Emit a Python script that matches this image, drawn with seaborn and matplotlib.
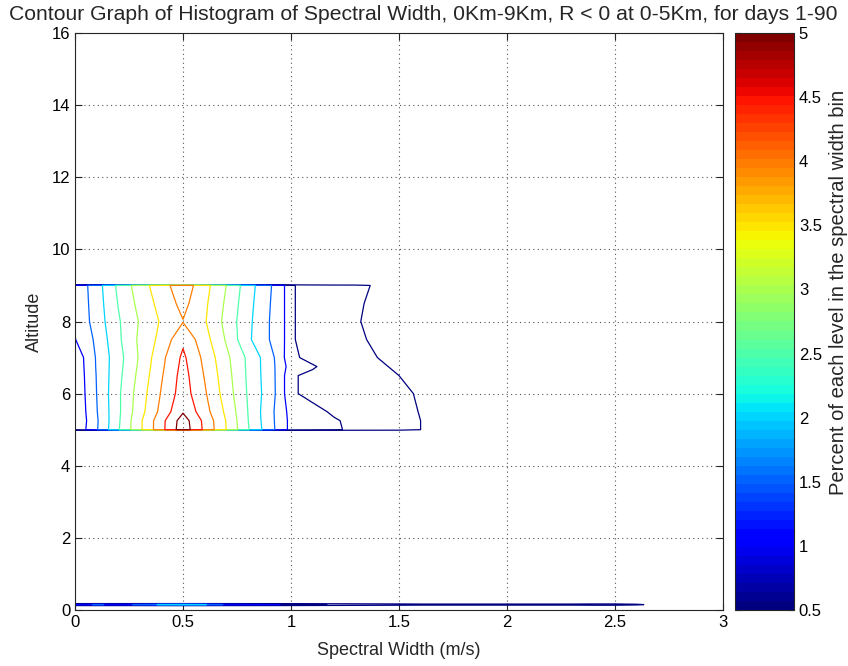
import numpy as np
import matplotlib
matplotlib.use("Agg")
import matplotlib as mpl
import matplotlib.pyplot as plt
from matplotlib.colors import Normalize
import seaborn as sns

# ---------------- data ----------------
spectral_width = [0.0, 0.1, 0.2, 0.3, 0.4, 0.5, 0.6, 0.7, 0.8, 0.9, 0.95,
                  1.0, 1.1, 1.2, 1.3, 1.4, 1.5, 1.6, 1.7, 1.8, 1.9, 2.0,
                  2.1, 2.2, 2.3, 2.4, 2.5, 2.6, 2.7, 2.8, 2.9, 3.0]
altitude_km = [0.0, 0.12, 0.15, 0.18, 4.98, 5.0, 5.25, 5.5, 6.0, 6.5, 6.75,
               7.0, 7.5, 8.0, 8.5, 9.0, 9.02, 16.0]

# percent per spectral-width bin at each altitude (missing tail = 0)
pct_0_15 = [1.1, 1.6, 1.3, 1.6, 2.1, 2.2, 2.05, 1.4, 1.2, 1.1, 1.0,
            0.9, 0.6, 0.45, 0.35, 0.3, 0.25, 0.2, 0.2, 0.2, 0.2, 0.2,
            0.2, 0.2, 0.2, 0.25, 0.25, 0.15, 0.0, 0.0, 0.0, 0.0]
pct_5_00 = [0.55, 1.45, 2.45, 3.4, 4.35, 5.3, 4.4, 3.5, 2.55, 1.7, 1.3,
            0.85, 0.72, 0.55, 0.42, 0.35, 0.3, 0.1, 0.0]
pct_5_25 = [0.5, 1.43, 2.42, 3.4, 4.34, 5.25, 4.37, 3.48, 2.52, 1.67, 1.3,
            0.85, 0.7, 0.53, 0.42, 0.35, 0.3, 0.1, 0.0]
pct_5_50 = [0.53, 1.47, 2.4, 3.3, 4.15, 4.95, 4.2, 3.4, 2.5, 1.65, 1.3,
            0.8, 0.6, 0.45, 0.35, 0.3, 0.25, 0.08, 0.0]
pct_6_00 = [0.57, 1.5, 2.41, 3.24, 4.04, 4.75, 4.07, 3.27, 2.46, 1.74, 1.3,
            0.55, 0.4, 0.35, 0.3, 0.25, 0.2, 0.05, 0.0]
pct_6_50 = [0.6, 1.52, 2.36, 3.15, 3.95, 4.7, 3.97, 3.2, 2.43, 1.72, 1.3,
            0.55, 0.4, 0.33, 0.28, 0.2, 0.1, 0.0, 0.0]
pct_6_75 = [0.62, 1.54, 2.33, 3.1, 3.9, 4.65, 3.92, 3.16, 2.42, 1.71, 1.3,
            0.75, 0.55, 0.3, 0.25, 0.15, 0.05, 0.0, 0.0]
pct_7_00 = [0.64, 1.55, 2.31, 3.06, 3.86, 4.6, 3.87, 3.12, 2.41, 1.71, 1.25,
            0.6, 0.35, 0.28, 0.2, 0.1, 0.0, 0.0, 0.0]
pct_7_50 = [0.98, 1.6, 2.4, 3.1, 3.65, 4.4, 3.7, 2.95, 2.1, 1.5, 1.3,
            0.55, 0.3, 0.22, 0.15, 0.05, 0.0, 0.0, 0.0]
pct_8_00 = [1.05, 1.72, 2.44, 3.04, 3.56, 3.98, 3.55, 2.85, 2.13, 1.5, 1.3,
            0.55, 0.3, 0.2, 0.13, 0.0, 0.0, 0.0, 0.0]
pct_8_50 = [1.08, 1.75, 2.52, 3.15, 3.68, 4.15, 3.6, 2.92, 2.18, 1.52, 1.3,
            0.55, 0.3, 0.2, 0.15, 0.02, 0.0, 0.0, 0.0]
pct_9_00 = [1.1, 1.78, 2.6, 3.26, 3.8, 4.3, 3.68, 3.0, 2.24, 1.55, 1.3,
            0.55, 0.3, 0.22, 0.2, 0.05, 0.0, 0.0, 0.0]

contour_levels = [0.1, 0.5, 1.0, 1.5, 2.0, 2.5, 3.0, 3.5, 4.0, 4.5, 5.0]
x_ticks = [0, 0.5, 1, 1.5, 2, 2.5, 3]
x_tick_labels = ["0", "0.5", "1", "1.5", "2", "2.5", "3"]
y_ticks = [0, 2, 4, 6, 8, 10, 12, 14, 16]
cbar_ticks = [0.5, 1, 1.5, 2, 2.5, 3, 3.5, 4, 4.5, 5]
cbar_tick_labels = ["0.5", "1", "1.5", "2", "2.5", "3", "3.5", "4", "4.5", "5"]

title = "Contour Graph of Histogram of Spectral Width, 0Km-9Km, R < 0 at 0-5Km, for days 1-90"
x_label = "Spectral Width (m/s)"
y_label = "Altitude"
cbar_label = "Percent of each level in the spectral width bin"

# ---------------- build the grid table ----------------
rows = {0.15: pct_0_15, 5.0: pct_5_00, 5.25: pct_5_25, 5.5: pct_5_50,
        6.0: pct_6_00, 6.5: pct_6_50, 6.75: pct_6_75, 7.0: pct_7_00,
        7.5: pct_7_50, 8.0: pct_8_00, 8.5: pct_8_50, 9.0: pct_9_00}
Z = np.zeros((len(altitude_km), len(spectral_width)))
for i, a in enumerate(altitude_km):
    if a in rows:
        vals = rows[a]
        Z[i, :len(vals)] = vals
X, Y = np.meshgrid(spectral_width, altitude_km)

# ---------------- style ----------------
sns.set_theme(style="white")
plt.rcParams["font.family"] = ["Liberation Sans", "DejaVu Sans"]
plt.rcParams["axes.edgecolor"] = "#262626"
plt.rcParams["axes.linewidth"] = 0.8

fig = plt.figure(figsize=(8.48, 6.66), dpi=100)
ax = fig.add_axes([75 / 848, (666 - 610) / 666, 648 / 848, 577 / 666])
cax = fig.add_axes([735 / 848, (666 - 610) / 666, 59 / 848, 577 / 666])

cmap = plt.get_cmap("jet", 64)
norm = Normalize(vmin=0.5, vmax=5.0)

ax.contour(X, Y, Z, levels=contour_levels, cmap=cmap, norm=norm,
           linewidths=0.9)

ax.set_xlim(0, 3)
ax.set_ylim(0, 16)
ax.set_xticks(x_ticks)
ax.set_xticklabels(x_tick_labels)
ax.set_yticks(y_ticks)
ax.grid(True, linestyle=(0, (1, 3)), color="#555555", linewidth=0.8)
ax.tick_params(direction="in", length=5, width=0.8, labelsize=12,
               top=True, right=True, bottom=True, left=True, colors="#262626",
               labelcolor="black")
for s in ax.spines.values():
    s.set_visible(True)
ax.set_xlabel(x_label, fontsize=13, labelpad=9)
ax.set_ylabel(y_label, fontsize=13, labelpad=6)
fig.text(423 / 848, 1 - 20 / 666, title, ha="center", va="baseline",
         fontsize=15.2)

sm = mpl.cm.ScalarMappable(norm=norm, cmap=cmap)
cb = fig.colorbar(sm, cax=cax)
cb.set_ticks(cbar_ticks)
cb.set_ticklabels(cbar_tick_labels)
cb.outline.set_edgecolor("#262626")
cb.outline.set_linewidth(0.8)
cax.tick_params(direction="in", length=4, width=0.8, labelsize=12,
                left=True, right=True, colors="#262626", labelcolor="black")
cb.set_label(cbar_label, fontsize=14.5)
cax.yaxis.set_label_coords((829 - 735) / 59, 0.55)

fig.savefig("out.png", dpi=100, facecolor="white")
